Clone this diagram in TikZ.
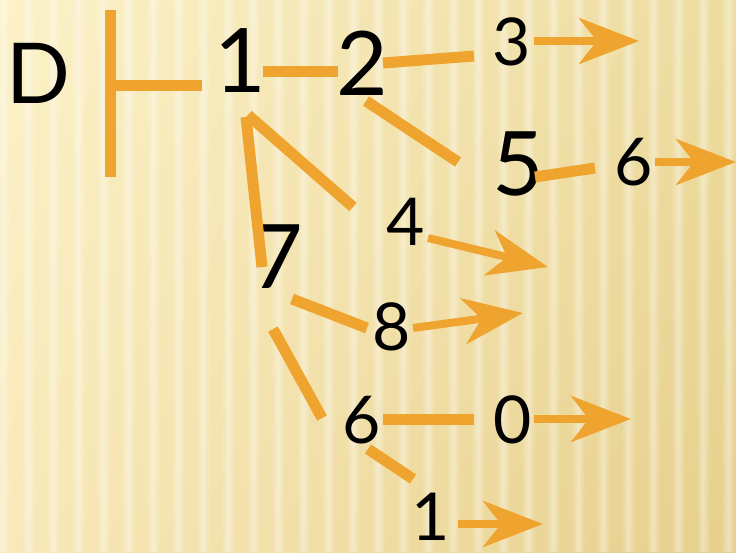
\documentclass[tikz,border=0pt]{standalone}
\usepackage{fontspec}
\setmainfont{Lato}
\usetikzlibrary{arrows.meta,calc,fadings,shadings}
\definecolor{orng}{RGB}{240,164,48}
\definecolor{bgul}{RGB}{252,241,200}
\definecolor{bgur}{RGB}{237,220,160}
\definecolor{bgll}{RGB}{248,233,185}
\definecolor{bglr}{RGB}{230,207,140}
\tikzfading[name=stripefade,left color=transparent!100,
  right color=transparent!100,middle color=transparent!0]
\tikzset{
  >={Stealth[length=60pt,width=46pt,inset=18pt]},
  bigdig/.style={font=\fontsize{89}{89}\selectfont,inner sep=0pt},
  smalldig/.style={font=\fontsize{66}{66}\selectfont,inner sep=0pt},
  letter/.style={font=\fontsize{84}{84}\selectfont,inner sep=0pt},
  link/.style={draw=orng,line width=11pt},
  flow/.style={->,draw=orng,line width=8pt},
}
\begin{document}
\begin{tikzpicture}[x=1pt,y=-1pt]
  \useasboundingbox (0,0) rectangle (736,552);
  % background
  \shade[upper left=bgul,upper right=bgur,lower left=bgll,lower right=bglr]
    (0,0) rectangle (736,552);
  \foreach \i in {0,...,30}
    \fill[white,fill opacity=0.4,path fading=stripefade]
      (\i*25-4,0) rectangle ++(14,552);
  % labels
  \node[letter] (D) at (38,73) {D};
  \node[bigdig] (n1) at (240,61) {1};
  \node[bigdig] (n2) at (362,63) {2};
  \node[smalldig] (n3) at (512,42) {3};
  \node[bigdig] (n5) at (518,164) {5};
  \node[smalldig] (n6a) at (634,162) {6};
  \node[smalldig] (n4) at (406,222) {4};
  \node[bigdig] (n7) at (277,257) {7};
  \node[smalldig] (n8) at (392,327) {8};
  \node[smalldig] (n6b) at (362,420) {6};
  \node[smalldig] (n0) at (513,420) {0};
  \node[smalldig] (n1b) at (431,517) {1};
  \coordinate (tee) at (110,85);
  % turnstile
  \draw[link] ($(tee)+(0,-75)$) -- ($(tee)+(0,92)$);
  \draw[link] (tee) -- ($(tee)+(92,0)$);
  % edges
  \draw[link] ($(n1)+(23,10)$) -- ($(n2)+(-24,8)$);
  \draw[link] ($(n2)+(21,0)$) -- ($(n3)+(-38,14)$);
  \draw[link] ($(n2)+(4,38)$) -- ($(n5)+(-60,-2)$);
  \draw[link] ($(n5)+(17,13)$) -- ($(n6a)+(-39,6)$);
  \draw[link] ($(n1)+(8,54)$) -- ($(n4)+(-53,-15)$);
  \draw[link] ($(n1)+(6,56)$) -- ($(n7)+(-15,10)$);
  \draw[link] ($(n7)+(15,42)$) -- ($(n8)+(-25,1)$);
  \draw[link] ($(n7)+(-4,72)$) -- ($(n6b)+(-40,-2)$);
  \draw[link] ($(n6b)+(21,-1)$) -- ($(n0)+(-39,-1)$);
  \draw[link] ($(n6b)+(6,29)$) -- ($(n1b)+(-18,-38)$);
  % arrows
  \draw[flow] ($(n3)+(22,-1)$) -- ($(n3)+(127,-1)$);
  \draw[flow] ($(n6a)+(21,0)$) -- ($(n6a)+(102,0)$);
  \draw[flow] ($(n4)+(22,16)$) -- ($(n4)+(142,45)$);
  \draw[flow] ($(n8)+(21,1)$) -- ($(n8)+(131,-14)$);
  \draw[flow] ($(n0)+(21,-1)$) -- ($(n0)+(118,-1)$);
  \draw[flow] ($(n1b)+(27,7)$) -- ($(n1b)+(112,7)$);
\end{tikzpicture}
\end{document}
